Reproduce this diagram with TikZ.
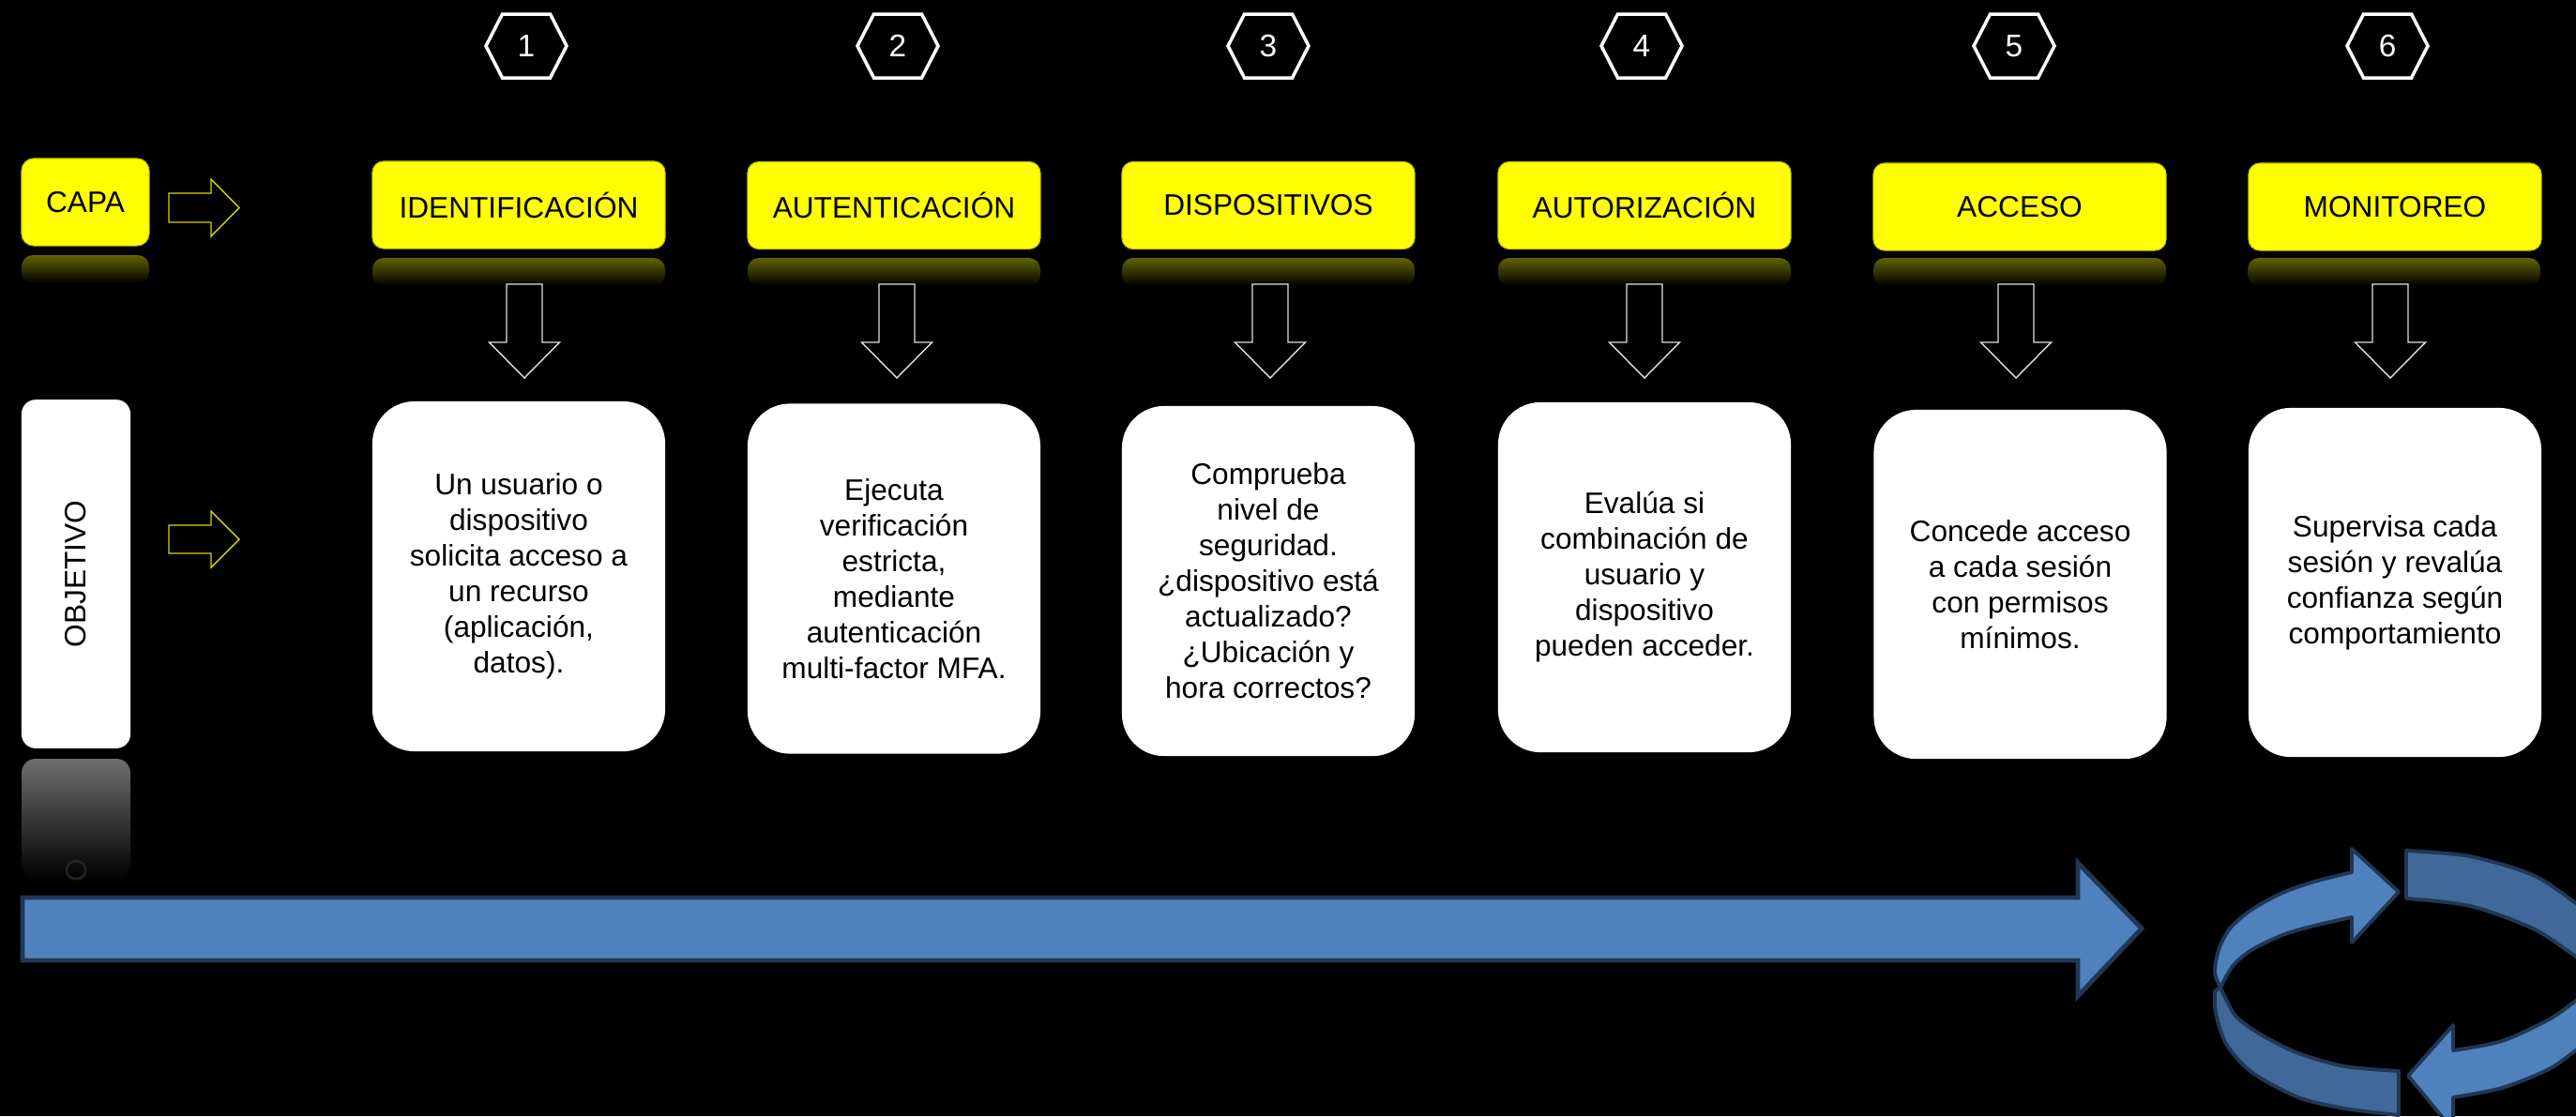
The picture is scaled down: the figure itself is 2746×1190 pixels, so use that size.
\documentclass[tikz,border=0pt]{standalone}
\usepackage{fontspec}
\setmainfont{Liberation Sans}
\usetikzlibrary{calc}
\definecolor{capay}{RGB}{255,255,0}
\definecolor{capaedge}{RGB}{190,190,0}
\definecolor{refly}{RGB}{98,98,0}
\definecolor{refgray}{RGB}{110,110,110}
\definecolor{arrowy}{RGB}{215,215,0}
\definecolor{bluefill}{RGB}{79,129,189}
\definecolor{bluedark}{RGB}{64,104,152}
\definecolor{blueedge}{RGB}{33,55,84}
\definecolor{ghost}{RGB}{36,36,36}
\tikzset{
  capabox/.style={fill=capay, draw=capaedge, line width=0.3pt, rounded corners=0.12cm,
    minimum width=3.12cm, minimum height=0.93cm, inner sep=0pt,
    font=\fontsize{9}{10.8}\selectfont, text=black},
  objbox/.style={fill=white, rounded corners=0.45cm, minimum width=3.12cm, inner sep=0pt,
    align=center, font=\fontsize{9}{10.8}\selectfont, text=black},
  hexnum/.style={text=white, font=\fontsize{9.5}{11}\selectfont, inner sep=0pt},
  hexline/.style={draw=white, line width=1pt, line join=miter},
  downarrow/.style={draw=white!88!black, line width=0.4pt},
  yarrow/.style={draw=arrowy, line width=0.4pt},
  yrefl/.style={top color=refly, bottom color=black, rounded corners=0.12cm},
  grefl/.style={top color=refgray, bottom color=black, rounded corners=0.15cm},
  bigarrow/.style={fill=bluefill, draw=blueedge, line width=1.4pt, line join=miter},
  ringlight/.style={fill=bluefill, draw=blueedge, line width=1.1pt, line join=round},
  ringdark/.style={fill=bluedark, draw=blueedge, line width=1.1pt, line join=round},
}
\begin{document}
\begin{tikzpicture}[x=0.01cm,y=-0.01cm]
\fill[black] (0,0) rectangle (2746,1190);
\useasboundingbox (0,0) rectangle (2746,1190);

% ---- left legend ----
\shade[yrefl] (23,272) rectangle (159,302);
\node[capabox, minimum width=1.36cm, rounded corners=0.13cm] (capa) at (91,215.5) {CAPA};
\coordinate (ca) at (180,221.5);
\draw[yarrow] ($(ca)+(0,-15.5)$) -- ++(45,0) -- ++(0,-15) -- ++(30,30.5) -- ++(-30,30.5) -- ++(0,-15) -- ++(-45,0) -- cycle;

\shade[grefl] (23,809) rectangle (139,938);
\node[text=ghost, rotate=90, font=\fontsize{9}{10}\selectfont] (ghostO) at (82,928) {O};
\node[fill=white, rounded corners=0.15cm, rotate=90, minimum width=3.715cm, minimum height=1.16cm,
  inner sep=0pt, font=\fontsize{9}{10}\selectfont, text=black] (obj) at (81,612) {OBJETIVO};
\coordinate (oa) at (180,575);
\draw[yarrow] ($(oa)+(0,-15)$) -- ++(45,0) -- ++(0,-15) -- ++(30,30) -- ++(-30,30) -- ++(0,-15) -- ++(-45,0) -- cycle;

% ---- hexagon numbers ----
\foreach \n/\hx in {1/561,2/957,3/1352,4/1750,5/2147,6/2545}{
  \node[hexnum] (h\n) at (\hx,49) {\n};
  \draw[hexline] ($(h\n)+(-43,0)$) -- ($(h\n)+(-25.5,-34)$) -- ($(h\n)+(25.5,-34)$)
     -- ($(h\n)+(43,0)$) -- ($(h\n)+(25.5,34)$) -- ($(h\n)+(-25.5,34)$) -- cycle;
}

% ---- yellow reflections ----
\foreach \lx in {397,797,1196,1597,1997,2396}{
  \shade[yrefl] (\lx,275) rectangle ({\lx+312},305);
}

% ---- yellow layer boxes ----
\node[capabox] (y1) at (553,218.5) {IDENTIFICACIÓN};
\node[capabox] (y2) at (953,219) {AUTENTICACIÓN};
\node[capabox] (y3) at (1352,219) {DISPOSITIVOS};
\node[capabox] (y4) at (1753,219) {AUTORIZACIÓN};
\node[capabox] (y5) at (2153,220.5) {ACCESO};
\node[capabox] (y6) at (2553,220.5) {MONITOREO};

% ---- down arrows ----
\foreach \n/\ax in {1/559,2/956,3/1354,4/1753,5/2149,6/2548}{
  \coordinate (d\n) at (\ax,303);
  \draw[downarrow] ($(d\n)+(-19,0)$) -- ++(38,0) -- ++(0,62) -- ++(18.5,0) -- ++(-37.5,38)
     -- ++(-37.5,-38) -- ++(18.5,0) -- cycle;
}

% ---- objective boxes ----
\node[objbox, minimum height=3.73cm] (o1) at (553,614.5)
  {Un usuario o\\dispositivo\\solicita acceso a\\un recurso\\(aplicación,\\datos).};
\node[objbox, minimum height=3.73cm] (o2) at (953,617)
  {Ejecuta\\verificación\\estricta,\\mediante\\autenticación\\multi-factor MFA.};
\node[objbox, minimum height=3.73cm] (o3) at (1352,619.5)
  {Comprueba\\nivel de\\seguridad.\\¿dispositivo está\\actualizado?\\¿Ubicación y\\hora correctos?};
\node[objbox, minimum height=3.73cm] (o4) at (1753,615.5)
  {Evalúa si\\combinación de\\usuario y\\dispositivo\\pueden acceder.};
\node[objbox, minimum height=3.72cm] (o5) at (2153.5,623)
  {Concede acceso\\a cada sesión\\con permisos\\mínimos.};
\node[objbox, minimum height=3.72cm] (o6) at (2553,621)
  {Supervisa cada\\sesión y revalúa\\confianza según\\comportamiento};

% ---- big process arrow ----
\coordinate (ba) at (24,957);
\draw[bigarrow] (ba) -- ++(2191,0) -- ++(0,-37) -- ++(68,70) -- ++(-68,72) -- ++(0,-38) -- ++(-2191,0) -- cycle;

% ---- circular arrows (cycle) ----
\begin{scope}
\clip (0,0) rectangle (2746,1190);
% lower-left dark band
\draw[ringdark] (2367,1053) -- plot[smooth] coordinates {(2367,1053) (2383,1083) (2410,1103) (2450,1123) (2500,1137) (2557,1142)}
  -- (2557,1189)
  -- plot[smooth] coordinates {(2557,1189) (2500,1182) (2450,1170) (2400,1143) (2373,1113) (2362,1080) (2361,1057)}
  -- cycle;
% upper-left light arrow
\draw[ringlight] (2367,1053) -- plot[smooth] coordinates {(2367,1053) (2361,1037) (2365,1013) (2377,990) (2400,970) (2433,952) (2467,940) (2507,930)}
  -- (2507,905) -- (2557,951) -- (2507,1005) -- (2507,978)
  -- plot[smooth] coordinates {(2507,978) (2467,987) (2433,997) (2400,1013) (2380,1030) (2367,1053)}
  -- cycle;
% upper-right dark band
\draw[ringdark] (2565,958) -- (2565,907)
  -- plot[smooth] coordinates {(2565,907) (2633,913) (2700,933) (2746,963) (2790,995)}
  -- (2790,1050)
  -- plot[smooth] coordinates {(2790,1050) (2746,1020) (2700,990) (2633,966) (2565,958)}
  -- cycle;
% lower-right light arrow
\draw[ringlight] (2567,1147) -- (2615,1093) -- (2615,1120)
  -- plot[smooth] coordinates {(2615,1120) (2667,1110) (2717,1087) (2746,1067) (2790,1035)}
  -- (2790,1090)
  -- plot[smooth] coordinates {(2790,1090) (2746,1120) (2717,1140) (2667,1160) (2615,1170)}
  -- (2615,1205) -- cycle;
\end{scope}
\end{tikzpicture}
\end{document}
